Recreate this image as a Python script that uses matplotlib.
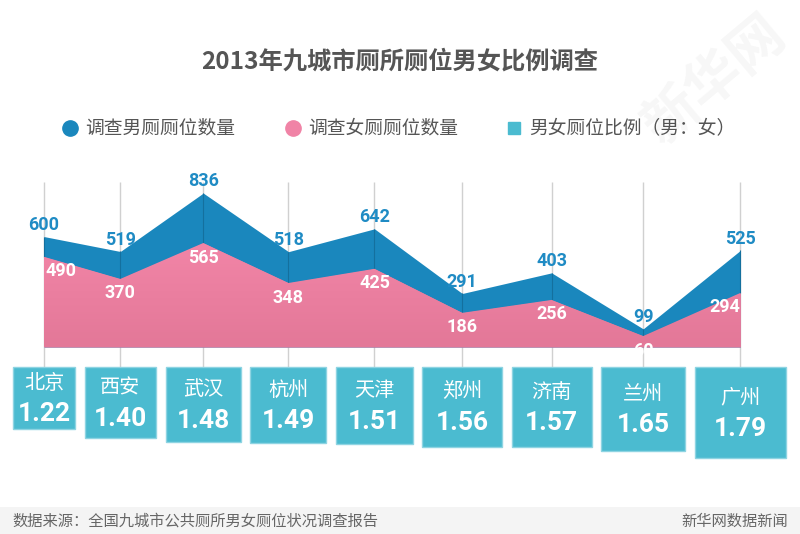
import numpy as np
import matplotlib
matplotlib.use('Agg')
import matplotlib.pyplot as plt
from matplotlib.patches import Rectangle

# data
cities = ['北京', '西安', '武汉', '杭州', '天津', '郑州', '济南', '兰州', '广州']
male = [600, 519, 836, 518, 642, 291, 403, 99, 525]
female = [490, 370, 565, 348, 425, 186, 256, 60, 294]
ratio = [1.22, 1.40, 1.48, 1.49, 1.51, 1.56, 1.57, 1.65, 1.79]

plt.rcParams['font.family'] = ['Noto Sans CJK SC', 'DejaVu Sans']
num_font = ['Roboto', 'DejaVu Sans']

blue = '#1a87bd'
pink = '#ea7c9c'
teal = '#4bbbd0'
grey_txt = '#555555'

fig = plt.figure(figsize=(8, 5.34), dpi=100)

# box size follows the ratio, city positions follow the boxes
k = 51
gap = 9.5
side = [k * r for r in ratio]
xs = [44]
for i in range(1, len(side)):
    xs.append(xs[-1] + (side[i - 1] + side[i]) / 2 + gap)

# area chart
ax = fig.add_axes([0, 0.350, 1, 0.3105])
ax.set_xlim(0, 800)
ax.set_ylim(0, 900)
ax.axis('off')
ax.vlines(xs, -108, 896, color='#d0d0d0', lw=1, zorder=0, clip_on=False)
ax.fill_between(xs, 0, male, color=blue, lw=0, zorder=1)
ax.vlines(xs, female, male, color='#14709e', lw=0.8, zorder=1.5)
pink_poly = ax.fill_between(xs, 0, female, color=pink, lw=0, zorder=2)
grad = np.linspace(0, 1, 100).reshape(-1, 1)
img = ax.imshow(grad, extent=[xs[0], xs[-1], 0, max(female)], aspect='auto',
                cmap=matplotlib.colors.LinearSegmentedColormap.from_list('p', ['#e37898', '#f285a7']),
                origin='lower', zorder=2)
img.set_clip_path(pink_poly.get_paths()[0], transform=ax.transData)

for i, (x, m, f) in enumerate(zip(xs, male, female)):
    ax.annotate(str(m), (x, m), xytext=(0, 2), textcoords='offset points',
                ha='center', va='bottom', color='#1f8bc4', fontsize=13,
                fontweight='bold', family=num_font, zorder=5)
    ha = 'left' if i == 0 else ('right' if i == len(xs) - 1 else 'center')
    ax.annotate(str(f), (x + (1 if i == 0 else 0), f), xytext=(0, -4),
                textcoords='offset points', ha=ha, va='top', color='white',
                fontsize=13, fontweight='bold', family=num_font, zorder=5,
                annotation_clip=False)

# overlay layer in pixel units
base = fig.add_axes([0, 0, 1, 1])
base.set_xlim(0, 800)
base.set_ylim(534, 0)
base.axis('off')

# title + legend
base.text(400, 62, '2013年九城市厕所厕位男女比例调查', ha='center', va='center',
          fontsize=17.5, fontweight='bold', color=grey_txt)
leg = [('o', blue, '调查男厕厕位数量', 70),
       ('o', '#f083a6', '调查女厕厕位数量', 293),
       ('s', teal, '男女厕位比例（男：女）', 514)]
for mk, c, t, lx in leg:
    base.plot(lx, 128, mk, ms=11 if mk == 'o' else 9, color=c)
    base.text(lx + 15, 128, t, ha='left', va='center', fontsize=13.5, color=grey_txt)

# watermark
base.text(715, 80, '新华网', rotation=40, fontsize=40, fontweight='bold',
          color='#000000', alpha=0.035, ha='center', va='center')

# ratio boxes
for x, s, c, r in zip(xs, side, cities, ratio):
    base.add_patch(Rectangle((x - s / 2, 367), s, s, facecolor=teal,
                             edgecolor='#8ed4e2', lw=1, zorder=3))
    cy = 367 + s / 2
    base.text(x, cy - 15, c, ha='center', va='center', fontsize=14.5,
              color='white', zorder=4)
    base.text(x, cy + 16, '%.2f' % r, ha='center', va='center', fontsize=19,
              color='white', fontweight='bold', family=num_font, zorder=4)

# footer
base.add_patch(Rectangle((0, 507), 800, 27, facecolor='#f4f4f4', lw=0))
base.text(12, 521, '数据来源：全国九城市公共厕所男女厕位状况调查报告', ha='left',
          va='center', fontsize=11, color='#666666')
base.text(788, 521, '新华网数据新闻', ha='right', va='center', fontsize=11,
          color='#666666')

fig.savefig('out.png', dpi=100)
